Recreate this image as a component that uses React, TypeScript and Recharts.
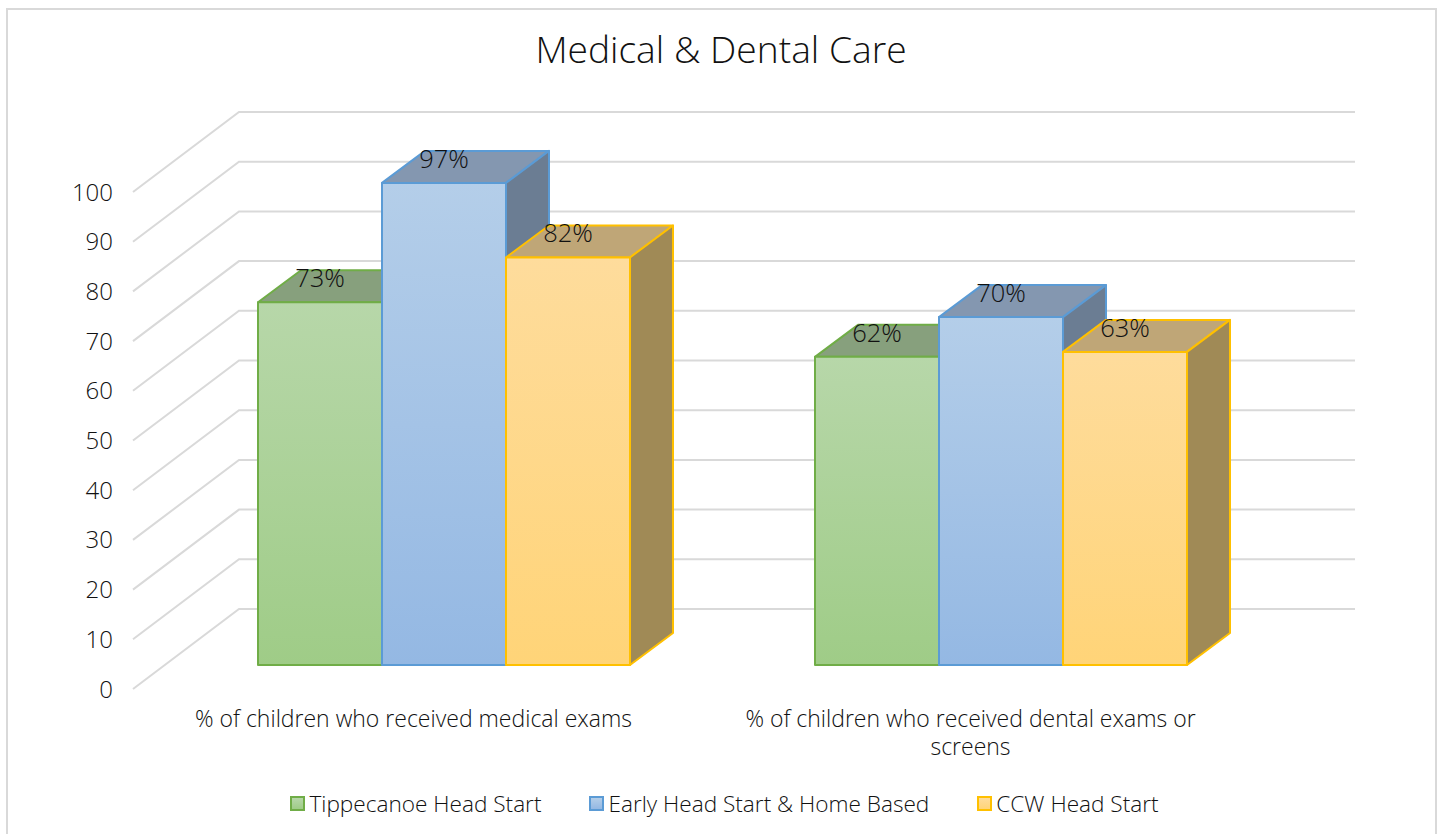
import { Bar, BarChart, CartesianGrid, LabelList, Legend, XAxis, YAxis } from "recharts";

const categories = [
  "% of children who received medical exams",
  "% of children who received dental exams or screens",
];
const tippecanoe = [73, 62];
const earlyHeadStart = [97, 70];
const ccw = [82, 63];
const yTicks = [0, 10, 20, 30, 40, 50, 60, 70, 80, 90, 100];

const rows = categories.map((name, i) => ({
  name,
  tippecanoe: tippecanoe[i],
  earlyHeadStart: earlyHeadStart[i],
  ccw: ccw[i],
}));

const FONT = '"Open Sans", "Noto Sans", sans-serif';
const TEXT = "#111";
const DEPTH_X = 43;
const DEPTH_Y = 32;
const MAX_LINE_CHARS = 44;

const series = [
  { key: "tippecanoe", name: "Tippecanoe Head Start", grad: ["#b7d7a9", "#9fcc87"], top: "#87a07d", side: "#75906a", line: "#70ad47" },
  { key: "earlyHeadStart", name: "Early Head Start & Home Based", grad: ["#b4cee9", "#94b8e3"], top: "#8497b0", side: "#6b7d93", line: "#5b9bd5" },
  { key: "ccw", name: "CCW Head Start", grad: ["#fedc9c", "#ffd478"], top: "#bfa677", side: "#a08a56", line: "#ffc000" },
];

function wrapLabel(label: string) {
  const lines: string[] = [];
  let current = "";
  for (const word of label.split(" ")) {
    const next = current ? `${current} ${word}` : word;
    if (next.length > MAX_LINE_CHARS) {
      lines.push(current);
      current = word;
    } else {
      current = next;
    }
  }
  lines.push(current);
  return lines;
}

function Box3D(props: any) {
  const { x, y, width, height, fill, top, side, line } = props;
  const r = x + width;
  const b = y + height;
  return (
    <g stroke={line} strokeWidth={2} strokeLinejoin="round">
      <path d={`M${x},${y} L${x + DEPTH_X},${y - DEPTH_Y} L${r + DEPTH_X},${y - DEPTH_Y} L${r},${y} Z`} fill={top} />
      <path d={`M${r},${y} L${r + DEPTH_X},${y - DEPTH_Y} L${r + DEPTH_X},${b - DEPTH_Y} L${r},${b} Z`} fill={side} />
      <rect x={x} y={y} width={width} height={height} fill={fill} />
    </g>
  );
}

// wall + side gridline, shifted back from the bars' front plane
function WallLine(props: any) {
  const y = props.y1;
  return (
    <polyline
      key={props.key ?? y}
      points={`133,${y + 24} 239,${y - 56} 1355,${y - 56}`}
      fill="none"
      stroke="#d9d9d9"
      strokeWidth={2}
    />
  );
}

function YTick({ y, payload }: any) {
  return (
    <text x={113} y={y + 23} textAnchor="end" dominantBaseline="central" fontSize={24} fontWeight={300} fontFamily={FONT} fill={TEXT}>
      {payload.value}
    </text>
  );
}

function XTick({ x, y, payload }: any) {
  return (
    <g>
      {wrapLabel(payload.value).map((line, i) => (
        <text key={line} x={x - 30} y={y + 56 + i * 28} textAnchor="middle" fontSize={23} fontWeight={300} fontFamily={FONT} fill={TEXT}>
          {line}
        </text>
      ))}
    </g>
  );
}

function LegendRow() {
  return (
    <div style={{ display: "flex", justifyContent: "center", gap: 48, height: 30, alignItems: "center", paddingLeft: 170 }}>
      {series.map((s) => (
        <div key={s.key} style={{ display: "flex", alignItems: "center", gap: 4 }}>
          <span style={{ width: 11, height: 11, border: `2px solid ${s.line}`, background: `linear-gradient(${s.grad[0]}, ${s.grad[1]})` }} />
          <span style={{ fontFamily: FONT, fontWeight: 300, fontSize: 22.6, color: TEXT }}>{s.name}</span>
        </div>
      ))}
    </div>
  );
}

export default function App() {
  return (
    <div style={{ position: "fixed", left: 0, top: 0, width: 1440, height: 834, background: "#fff", overflow: "hidden" }}>
      <div style={{ position: "absolute", left: 6, top: 8, width: 1427, height: 840, border: "2px solid #d9d9d9" }} />
      <div style={{ position: "absolute", left: 0, top: 24, width: 1442, textAlign: "center", fontFamily: FONT, fontWeight: 300, fontSize: 37.2, lineHeight: "50px", color: "#111" }}>
        Medical &amp; Dental Care
      </div>
      <div style={{ position: "absolute", left: 0, top: 0 }}>
        <BarChart
          width={1440}
          height={834}
          data={rows}
          margin={{ top: 168, right: 161, bottom: 16, left: 0 }}
          barSize={124}
          barGap={0}
          barCategoryGap={92.5}
        >
          <defs>
            {series.map((s) => (
              <linearGradient key={s.key} id={`grad-${s.key}`} x1="0" y1="0" x2="0" y2="1">
                <stop offset="0%" stopColor={s.grad[0]} />
                <stop offset="100%" stopColor={s.grad[1]} />
              </linearGradient>
            ))}
          </defs>
          <CartesianGrid vertical={false} horizontal={WallLine} />
          <XAxis dataKey="name" interval={0} axisLine={false} tickLine={false} height={123} tick={<XTick />} tickMargin={0} />
          <YAxis width={165} domain={[0, 100]} ticks={yTicks} axisLine={false} tickLine={false} tick={<YTick />} />
          <Legend verticalAlign="bottom" height={30} content={<LegendRow />} />
          {series.map((s) => (
            <Bar
              key={s.key}
              dataKey={s.key}
              name={s.name}
              fill={`url(#grad-${s.key})`}
              stroke={s.line}
              legendType="square"
              isAnimationActive={false}
              shape={<Box3D top={s.top} side={s.side} line={s.line} />}
            >
              <LabelList
                dataKey={s.key}
                position="top"
                offset={15}
                formatter={(v: any) => `${v}%`}
                fontSize={25.5}
                fontWeight={300}
                fontFamily={FONT}
                fill={TEXT}
              />
            </Bar>
          ))}
        </BarChart>
      </div>
    </div>
  );
}
